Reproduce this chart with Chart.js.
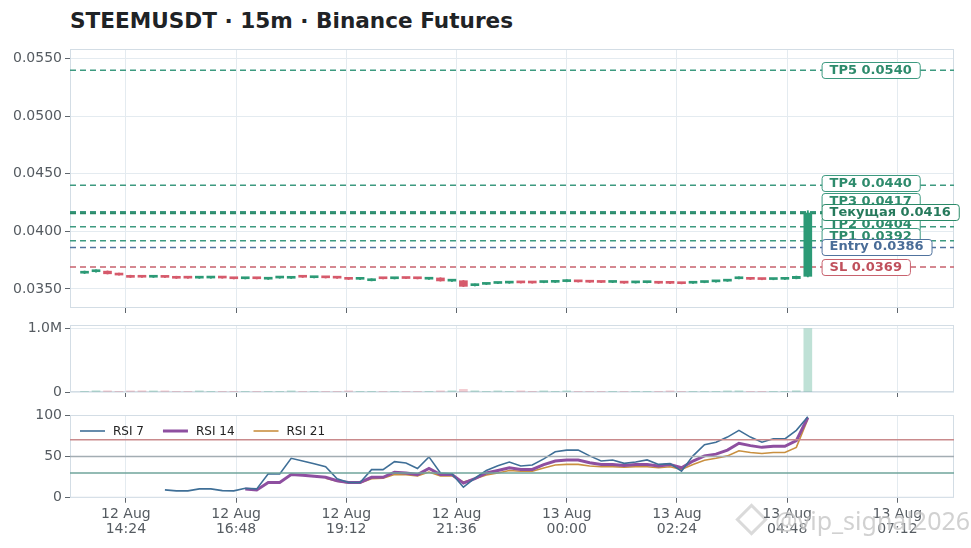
<!DOCTYPE html>
<html>
<head>
<meta charset="utf-8">
<script src="https://cdn.jsdelivr.net/npm/chart.js@4.4.1/dist/chart.umd.min.js"></script>
<style>
  body { margin:0; background:#fff; width:971px; height:548px; overflow:hidden; position:relative; font-family:'DejaVu Sans', sans-serif; }
  #title { position:absolute; left:70px; top:8px; font-weight:bold; font-size:21.6px; color:#1f2326; white-space:nowrap; }
  canvas { position:absolute; left:0; }
  #mark { position:absolute; left:740px; top:503px; font-family:'Noto Sans', sans-serif; font-size:25px; color:rgba(140,140,140,0.4); text-shadow:0 0 2px rgba(255,255,255,0.9); white-space:nowrap; }
  #mark span.logo { display:inline-block; width:17px; height:17px; border:3px solid rgba(150,150,150,0.35); transform:rotate(45deg); margin-right:12px; vertical-align:-1px; }
</style>
</head>
<body>
<div id="title">STEEMUSDT · 15m · Binance Futures</div>
<canvas id="priceChart" width="971" height="316" style="top:1px"></canvas>
<canvas id="volumeChart" width="971" height="82" style="top:316px"></canvas>
<canvas id="rsiChart" width="971" height="149" style="top:399px"></canvas>
<div id="mark"><span class="logo"></span>@vip_signal2026</div>
<script>
// 15m candles, minutes counted from 12 Aug 00:00 (first candle 12 Aug 13:30)
const startMinute = 810;
const candleMinutes = 15;

const opens  = [0.03637,0.03650,0.03655,0.03637,0.03618,0.03606,0.03602,0.03606,0.03610,0.03598,
                0.03594,0.03595,0.03599,0.03593,0.03589,0.03593,0.03585,0.03595,0.03593,0.03606,
                0.03598,0.03602,0.03598,0.03589,0.03584,0.03572,0.03593,0.03589,0.03595,0.03593,
                0.03585,0.03596,0.03568,0.03572,0.03529,0.03540,0.03548,0.03551,0.03558,0.03556,
                0.03556,0.03558,0.03564,0.03568,0.03564,0.03562,0.03557,0.03558,0.03553,0.03555,
                0.03555,0.03554,0.03553,0.03550,0.03556,0.03562,0.03568,0.03589,0.03590,0.03588,
                0.03582,0.03584,0.03590,0.03610];
const closes = [0.03653,0.03654,0.03632,0.03621,0.03601,0.03602,0.03606,0.03601,0.03593,0.03594,
                0.03598,0.03599,0.03595,0.03589,0.03593,0.03589,0.03598,0.03599,0.03607,0.03602,
                0.03602,0.03597,0.03594,0.03584,0.03588,0.03587,0.03589,0.03593,0.03591,0.03589,
                0.03596,0.03570,0.03572,0.03523,0.03541,0.03546,0.03555,0.03558,0.03553,0.03552,
                0.03563,0.03564,0.03574,0.03562,0.03559,0.03557,0.03562,0.03551,0.03559,0.03560,
                0.03550,0.03549,0.03546,0.03559,0.03564,0.03569,0.03575,0.03594,0.03584,0.03582,
                0.03588,0.03590,0.03610,0.04160];
const highs  = [0.03656,0.03666,0.03657,0.03639,0.03620,0.03608,0.03608,0.03608,0.03611,0.03600,
                0.03600,0.03601,0.03601,0.03595,0.03595,0.03595,0.03600,0.03601,0.03609,0.03608,
                0.03604,0.03604,0.03600,0.03591,0.03590,0.03589,0.03595,0.03595,0.03597,0.03595,
                0.03598,0.03598,0.03581,0.03574,0.03544,0.03548,0.03557,0.03560,0.03560,0.03558,
                0.03565,0.03566,0.03581,0.03570,0.03566,0.03564,0.03564,0.03560,0.03561,0.03562,
                0.03557,0.03556,0.03555,0.03561,0.03566,0.03571,0.03577,0.03606,0.03592,0.03590,
                0.03590,0.03592,0.03612,0.04180];
const lows   = [0.03634,0.03647,0.03630,0.03619,0.03599,0.03600,0.03600,0.03599,0.03591,0.03592,
                0.03592,0.03593,0.03593,0.03587,0.03587,0.03587,0.03583,0.03593,0.03591,0.03600,
                0.03596,0.03595,0.03592,0.03582,0.03582,0.03570,0.03587,0.03587,0.03589,0.03587,
                0.03583,0.03568,0.03565,0.03521,0.03526,0.03538,0.03546,0.03549,0.03551,0.03550,
                0.03554,0.03556,0.03562,0.03560,0.03557,0.03555,0.03555,0.03549,0.03551,0.03553,
                0.03548,0.03547,0.03544,0.03548,0.03554,0.03560,0.03566,0.03587,0.03582,0.03580,
                0.03580,0.03582,0.03588,0.03605];
const volumes = [3000,20000,19000,4000,18000,20000,18000,19000,5000,4000,
                 19000,3000,2000,3000,2000,3000,4000,2000,19000,3000,
                 2000,3000,2000,19000,3000,2000,2000,3000,2000,3000,
                 4000,19000,20000,42000,20000,4000,19000,3000,19000,3000,
                 19000,3000,19000,2000,3000,2000,3000,2000,3000,2000,
                 3000,19000,3000,2000,3000,2000,19000,20000,3000,2000,
                 3000,4000,21000,1003000];

const rsi7  = [null,null,null,null,null,null,null,9.5,8.3,8.3,
               10.7,10.7,8.6,8.3,11.5,10.7,29,28.8,47.7,44.4,
               41,37.4,23,18.5,18.5,34,34,43.6,42,35.4,
               49.4,30,29,12.8,23.8,33,38.7,43.2,38.3,39.5,
               47,55.6,57.6,57.6,50.6,44.4,45.7,41.6,43.2,45.7,
               40.3,41.2,32.1,50.6,64.2,67.1,73.3,81.5,73.3,67.1,
               71.2,71.2,81.5,97.9];
const rsi14 = [null,null,null,null,null,null,null,null,null,null,
               null,null,null,null,10.7,9.5,18.5,18.5,28,27.2,
               26,24.7,20.6,18.5,18.5,24.7,24.7,30.9,30,28,
               35.4,28,28,17.7,23,30,33,36.2,34.2,34.2,
               40,44.4,45.7,45.7,42.4,40.3,40.3,39,40.3,40.3,
               38.3,40.3,36.2,44.4,50.6,52.7,57.6,65.8,63,60.9,
               62.1,62.1,69.1,97];
const rsi21 = [null,null,null,null,null,null,null,null,null,null,
               null,null,null,null,null,null,null,null,null,null,
               null,23.5,20,18,18,23,23.5,28,28,26.5,
               31,26.5,26.5,19,23,27.5,30,32.9,32.1,32.1,
               36,39.5,40.3,40.3,38.3,37.4,37.4,37,37.4,37.4,
               36.2,37.4,34.2,40.3,45.3,47.7,50.6,56.8,54.7,53.5,
               54.7,54.7,60.9,95];

const levelNames  = ['TP5','TP4','TP3','TP2','TP1','Entry','SL','Текущая'];
const levelValues = [0.0540,0.0440,0.0417,0.0404,0.0392,0.0386,0.0369,0.0416];
const rsiLevels   = [70,50,30];

const timeTicks   = [864,1008,1152,1296,1440,1584,1728,1872];
const priceTicks  = [0.035,0.040,0.045,0.050,0.055];
const volumeTicks = [0,1000000];
const rsiTicks    = [0,50,100];

// ---- styling ----
const X_MIN = 791, X_MAX = 1946;
const UP = '#2c9a76', DOWN = '#d65a6b';
const UP_VOL = 'rgba(44,154,118,0.3)', DOWN_VOL = 'rgba(214,90,107,0.3)';
const GRID = '#e4ebf0', FRAME = '#d3dde5', TICK = '#5f666d';
const levelStyle = {
  TP:    { line:'#3d9a80', text:'#2e8b6c', width:1.5 },
  Entry: { line:'#50739e', text:'#4a6d98', width:1.5 },
  SL:    { line:'#c8626e', text:'#c0505c', width:1.5 },
  Cur:   { line:'#2a8a68', text:'#267a5c', width:2.4 }
};
const labelNudge = { TP4:-2, TP3:-11, TP2:-3, TP1:-5, Entry:-1, 'Текущая':-1 };
const rsiColors = ['#3f6f97', '#8e4fa0', '#c99040'];
const rsiLevelColors = ['#c98a8c', '#a3adb3', '#6fa59b'];

Chart.defaults.font.family = "'DejaVu Sans', sans-serif";
Chart.defaults.animation = false;
Chart.defaults.events = [];
Chart.defaults.plugins.legend.display = false;
Chart.defaults.plugins.tooltip.enabled = false;

const times = opens.map((_, i) => startMinute + i * candleMinutes);
const isUp = opens.map((o, i) => closes[i] >= o);

function kindOf(name) {
  if (name.startsWith('TP')) return 'TP';
  if (name === 'Entry') return 'Entry';
  if (name === 'SL') return 'SL';
  return 'Cur';
}
function fmtTime(m) {
  const day = m >= 1440 ? 13 : 12;
  const mm = m % 1440;
  const h = String(Math.floor(mm / 60)).padStart(2, '0');
  const mi = String(mm % 60).padStart(2, '0');
  return [day + ' Aug', h + ':' + mi];
}

function xAxis(showLabels) {
  return {
    type: 'linear', min: X_MIN, max: X_MAX, offset: false,
    afterBuildTicks: s => { s.ticks = timeTicks.map(v => ({ value: v })); },
    afterFit: s => { s.paddingLeft = 0; s.paddingRight = 0; },
    ticks: { display: showLabels, callback: v => fmtTime(v), maxRotation: 0, autoSkip: false,
             color: '#555b61', font: { size: 14, lineHeight: 1.08 }, padding: 4 },
    grid: { color: GRID, tickColor: TICK, tickLength: 5, offset: false },
    border: { display: false }
  };
}
function yAxis(min, max, tickVals, fmt) {
  return {
    type: 'linear', min: min, max: max,
    afterBuildTicks: s => { s.ticks = tickVals.map(v => ({ value: v })); },
    afterFit: s => { s.width = 70; s.paddingTop = 0; s.paddingBottom = 0; },
    ticks: { callback: fmt, color: '#555b61', font: { size: 14 }, padding: 3 },
    grid: { color: GRID, tickColor: TICK, tickLength: 5 },
    border: { display: false }
  };
}

const framePlugin = {
  id: 'frame',
  beforeDatasetsDraw(chart) {
    const { ctx, chartArea: a } = chart;
    ctx.save();
    ctx.strokeStyle = FRAME;
    ctx.lineWidth = 1;
    ctx.strokeRect(a.left + 0.5, a.top + 0.5, a.width - 1, a.height - 1);
    ctx.restore();
  }
};

const levelLabelPlugin = {
  id: 'levelLabels',
  afterDatasetsDraw(chart) {
    const { ctx } = chart;
    const xs = chart.scales.x, ys = chart.scales.y;
    const x = xs.getPixelForValue(times[times.length - 1] + 18);
    ctx.save();
    ctx.font = "bold 13px 'DejaVu Sans'";
    ctx.textBaseline = 'middle';
    levelNames.forEach((name, i) => {
      const st = levelStyle[kindOf(name)];
      const text = name + ' ' + levelValues[i].toFixed(4);
      const y = ys.getPixelForValue(levelValues[i]) + (labelNudge[name] || 0);
      const w = ctx.measureText(text).width + 16;
      const h = 16;
      ctx.beginPath();
      ctx.roundRect(x + 0.5, Math.round(y - h / 2) + 0.5, w, h, 3);
      ctx.fillStyle = '#fff';
      ctx.fill();
      ctx.strokeStyle = st.line;
      ctx.lineWidth = 1;
      ctx.stroke();
      ctx.fillStyle = st.text;
      ctx.fillText(text, x + 8, y + 0.5);
    });
    ctx.restore();
  }
};

const rsiLegendPlugin = {
  id: 'rsiLegend',
  afterDatasetsDraw(chart) {
    const { ctx, chartArea: a } = chart;
    let x = a.left + 10;
    const y = a.top + 16;
    ctx.save();
    ctx.font = "12px 'DejaVu Sans'";
    ctx.textBaseline = 'middle';
    chart.data.datasets.filter(d => d.label && d.label.startsWith('RSI')).forEach(d => {
      ctx.strokeStyle = d.borderColor;
      ctx.lineWidth = d.borderWidth;
      ctx.beginPath();
      ctx.moveTo(x, y); ctx.lineTo(x + 25, y);
      ctx.stroke();
      ctx.fillStyle = '#222';
      ctx.fillText(d.label, x + 33, y + 0.5);
      x += 33 + ctx.measureText(d.label).width + 19;
    });
    ctx.restore();
  }
};

// ---- price panel ----
const levelDatasets = levelNames.map((name, i) => {
  const st = levelStyle[kindOf(name)];
  return {
    type: 'line', label: name, order: 3,
    data: [{ x: X_MIN, y: levelValues[i] }, { x: X_MAX, y: levelValues[i] }],
    borderColor: st.line, borderWidth: st.width, borderDash: [6, 4],
    pointRadius: 0, fill: false
  };
});

new Chart(document.getElementById('priceChart'), {
  type: 'bar',
  data: {
    datasets: [
      {
        label: 'wick', order: 2, grouped: false, barThickness: 1.2,
        data: times.map((t, i) => ({ x: t, y: [lows[i], highs[i]] })),
        backgroundColor: isUp.map(u => u ? UP : DOWN)
      },
      {
        label: 'body', order: 1, grouped: false, barThickness: 8, minBarLength: 2,
        data: times.map((t, i) => ({ x: t, y: [opens[i], closes[i]] })),
        backgroundColor: isUp.map(u => u ? UP : DOWN)
      },
      ...levelDatasets
    ]
  },
  options: {
    responsive: false,
    layout: { padding: { top: 48, right: 17, bottom: 4, left: 0 } },
    scales: {
      x: xAxis(false),
      y: yAxis(0.03335, 0.05584, priceTicks, v => v.toFixed(4))
    }
  },
  plugins: [framePlugin, levelLabelPlugin]
});

// ---- volume panel ----
new Chart(document.getElementById('volumeChart'), {
  type: 'bar',
  data: {
    datasets: [{
      label: 'Volume', barThickness: 8,
      data: times.map((t, i) => ({ x: t, y: volumes[i] })),
      backgroundColor: isUp.map(u => u ? UP_VOL : DOWN_VOL)
    }]
  },
  options: {
    responsive: false,
    layout: { padding: { top: 9, right: 17, bottom: 1, left: 0 } },
    scales: {
      x: xAxis(false),
      y: yAxis(0, 1060000, volumeTicks, v => v === 0 ? '0' : (v / 1e6).toFixed(1) + 'M')
    }
  },
  plugins: [framePlugin]
});

// ---- RSI panel ----
const rsiLevelDatasets = rsiLevels.map((lv, i) => ({
  label: 'lvl' + lv,
  data: [{ x: X_MIN, y: lv }, { x: X_MAX, y: lv }],
  borderColor: rsiLevelColors[i], borderWidth: 1.5, pointRadius: 0
}));
const rsiSeries = [['RSI 7', rsi7, 1.6], ['RSI 14', rsi14, 3], ['RSI 21', rsi21, 1.6]];

new Chart(document.getElementById('rsiChart'), {
  type: 'line',
  data: {
    datasets: [
      ...rsiLevelDatasets,
      ...rsiSeries.map(([name, vals, w], i) => ({
        label: name,
        data: times.map((t, k) => ({ x: t, y: vals[k] })),
        borderColor: rsiColors[i], borderWidth: w, pointRadius: 0, tension: 0
      }))
    ]
  },
  options: {
    responsive: false,
    layout: { padding: { top: 16, right: 17, bottom: 7, left: 0 } },
    scales: {
      x: xAxis(true),
      y: yAxis(0, 100, rsiTicks, v => String(v))
    }
  },
  plugins: [framePlugin, rsiLegendPlugin]
});
</script>
</body>
</html>
